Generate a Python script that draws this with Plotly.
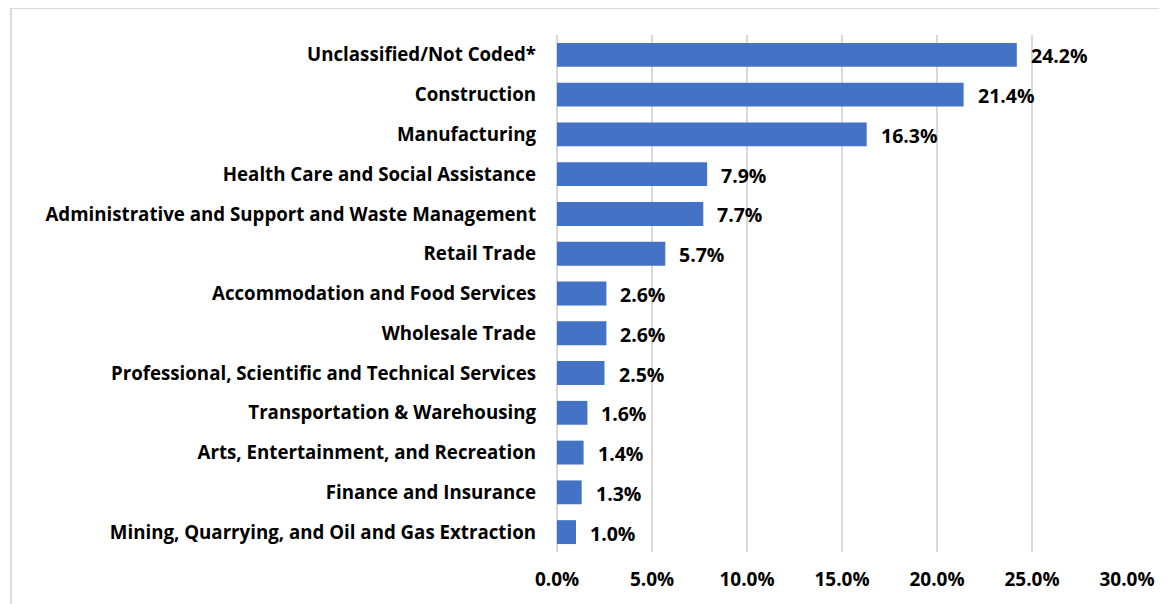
import plotly.graph_objects as go

categories = [
    "Unclassified/Not Coded*",
    "Construction",
    "Manufacturing",
    "Health Care and Social Assistance",
    "Administrative and Support and Waste Management",
    "Retail Trade",
    "Accommodation and Food Services",
    "Wholesale Trade",
    "Professional, Scientific and Technical Services",
    "Transportation & Warehousing",
    "Arts, Entertainment, and Recreation",
    "Finance and Insurance",
    "Mining, Quarrying, and Oil and Gas Extraction",
]
values = [24.2, 21.4, 16.3, 7.9, 7.7, 5.7, 2.6, 2.6, 2.5, 1.6, 1.4, 1.3, 1.0]
tick_vals = [0, 5, 10, 15, 20, 25, 30]
tick_text = ["0.0%", "5.0%", "10.0%", "15.0%", "20.0%", "25.0%", "30.0%"]

W, H = 1159, 596
L, R, T, B = 549, 36, 27, 50
pw, ph = W - L - R, H - T - B

def px_x(x):
    return (x - L) / pw

def px_y(y):
    return (H - B - y) / ph

font_family = "Open Sans"

fig = go.Figure(go.Bar(
    x=values,
    y=categories,
    orientation="h",
    marker=dict(color="#4472C4", line=dict(width=0)),
    width=0.6,
    hoverinfo="x+y",
))

for v, c in zip(values, categories):
    fig.add_annotation(
        x=v, y=c, xref="x", yref="y",
        text=f"{v:.1f}%", showarrow=False,
        xanchor="left", yanchor="middle", xshift=12, yshift=-1,
        font=dict(family=font_family, size=19.5, color="#000000", weight="bold"),
    )

fig.update_layout(
    width=W, height=H,
    margin=dict(l=L, r=R, t=T, b=B),
    paper_bgcolor="white",
    plot_bgcolor="white",
    showlegend=False,
    font=dict(family=font_family, color="#000000"),
    xaxis=dict(
        range=[0, 30],
        tickvals=tick_vals,
        ticktext=tick_text,
        showgrid=True,
        gridcolor="#d9d9d9",
        gridwidth=2,
        zeroline=True,
        zerolinecolor="#d9d9d9",
        zerolinewidth=2,
        showline=False,
        tickfont=dict(family=font_family, size=19, weight="bold"),
        ticklabelstandoff=14,
        fixedrange=True,
    ),
    yaxis=dict(
        autorange="reversed",
        showgrid=False,
        showline=False,
        ticks="",
        ticklabelstandoff=20,
        tickfont=dict(family=font_family, size=18.7, weight="bold"),
        fixedrange=True,
    ),
    shapes=[dict(
        type="rect", xref="paper", yref="paper",
        x0=px_x(-1), x1=px_x(W + 10), y0=px_y(H + 10), y1=px_y(0),
        line=dict(color="#d9d9d9", width=2), fillcolor="rgba(0,0,0,0)",
        layer="below",
    )],
)

fig.write_html("out.html")
